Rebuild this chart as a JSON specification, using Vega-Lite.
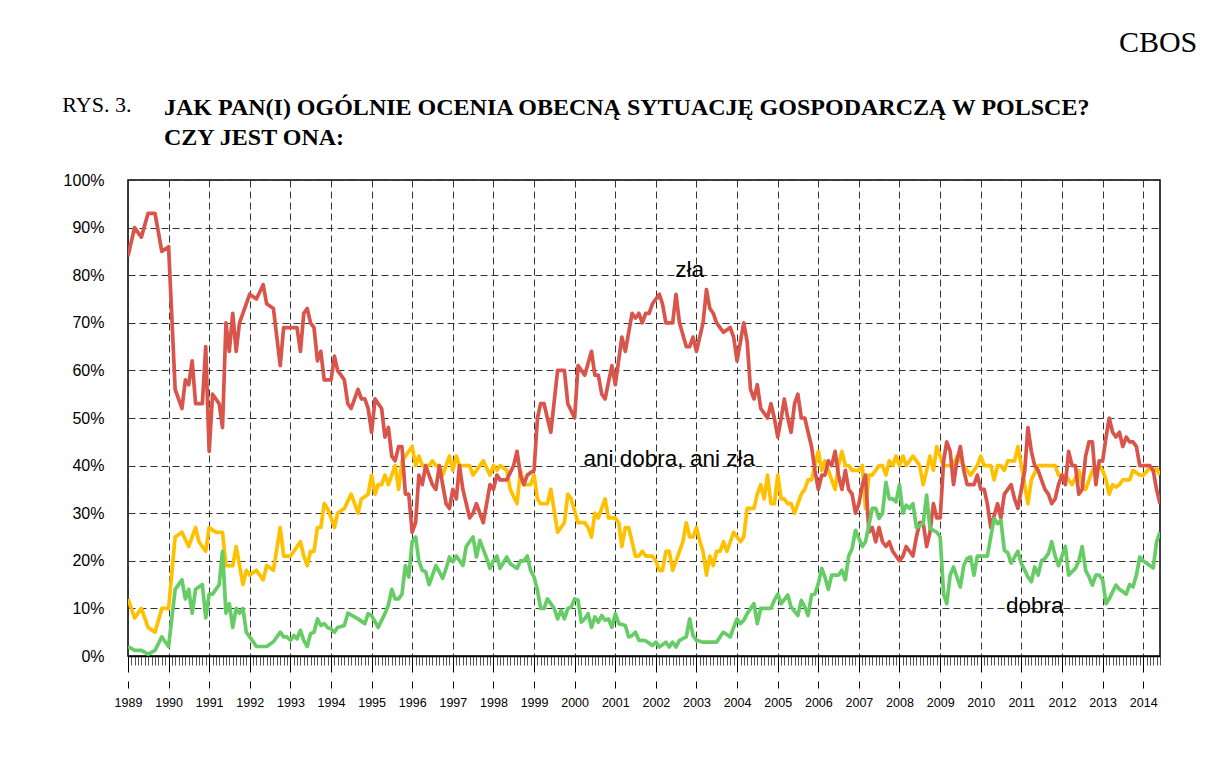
{
"$schema": "https://vega.github.io/schema/vega-lite/v6.json",
"background": "white",
"padding": {"left": 62, "top": 28, "right": 0, "bottom": 0},
"config": {"view": {"stroke": "black", "strokeWidth": 1.5}, "concat": {"spacing": 0}},
"title": {"text": "CBOS", "anchor": "end", "font": "Liberation Serif", "fontSize": 30, "fontWeight": "normal", "color": "black", "dx": 36, "offset": 36},
"vconcat": [{
"title": {"text": "RYS. 3.", "anchor": "start", "frame": "bounds", "font": "Liberation Serif", "fontSize": 22, "fontWeight": "normal", "color": "black", "dy": 32, "offset": 10},
"vconcat": [{
"width": 1032,
"height": 476,
"title": {"text": ["JAK PAN(I) OGÓLNIE OCENIA OBECNĄ SYTUACJĘ GOSPODARCZĄ W POLSCE?", "CZY JEST ONA:"], "anchor": "start", "frame": "group", "dx": 36, "font": "Liberation Serif", "fontSize": 24, "fontWeight": "bold", "lineHeight": 30, "color": "black", "offset": 22},
"encoding": {
"x": {"field": "d", "type": "temporal", "scale": {"type": "utc", "domain": [{"year": 1989, "month": 1, "date": 1, "utc": true}, {"year": 2014, "month": 6, "date": 1, "utc": true}]}, "axis": null},
"y": {"field": "v", "type": "quantitative", "scale": {"domain": [0, 100], "nice": false}, "axis": {"values": [0, 10, 20, 30, 40, 50, 60, 70, 80, 90, 100], "labelExpr": "datum.value + '%'", "title": null, "ticks": false, "tickSize": 0, "labelPadding": 24, "labelFont": "Liberation Sans", "labelFontSize": 16, "labelColor": "black", "domain": false, "grid": true, "gridColor": "#333333", "gridDash": [7, 4], "gridWidth": 1}}
},
"resolve": {"axis": {"x": "independent"}},
"layer": [
{
"data": {"format": {"parse": {"d": "utc:'%Y-%m'"}}, "values": [
{"d":"1989-01","v":12},{"d":"1989-03","v":8},{"d":"1989-05","v":10},{"d":"1989-07","v":6},{"d":"1989-09","v":5},{"d":"1989-11","v":10},
{"d":"1990-01","v":10},{"d":"1990-03","v":25},{"d":"1990-05","v":26},{"d":"1990-07","v":23},{"d":"1990-09","v":27},{"d":"1990-10","v":24},{"d":"1990-12","v":22},
{"d":"1991-01","v":27},{"d":"1991-03","v":26},{"d":"1991-05","v":26},{"d":"1991-06","v":19},{"d":"1991-08","v":19},{"d":"1991-09","v":23},{"d":"1991-11","v":15},{"d":"1991-12","v":18},
{"d":"1992-01","v":17},{"d":"1992-03","v":18},{"d":"1992-05","v":16},{"d":"1992-06","v":19},{"d":"1992-08","v":18},{"d":"1992-10","v":27},{"d":"1992-11","v":21},
{"d":"1993-01","v":21},{"d":"1993-02","v":22},{"d":"1993-04","v":24},{"d":"1993-05","v":21},{"d":"1993-06","v":19},{"d":"1993-07","v":22},{"d":"1993-08","v":22},{"d":"1993-09","v":27},{"d":"1993-10","v":27},{"d":"1993-11","v":32},{"d":"1993-12","v":31},
{"d":"1994-02","v":27},{"d":"1994-03","v":30},{"d":"1994-05","v":31},{"d":"1994-07","v":34},{"d":"1994-09","v":30},{"d":"1994-10","v":33},{"d":"1994-12","v":34},
{"d":"1995-01","v":38},{"d":"1995-02","v":34},{"d":"1995-03","v":36},{"d":"1995-04","v":36},{"d":"1995-05","v":38},{"d":"1995-06","v":36},{"d":"1995-08","v":40},{"d":"1995-09","v":35},{"d":"1995-10","v":41},{"d":"1995-11","v":42},{"d":"1995-12","v":43},
{"d":"1996-01","v":44},{"d":"1996-02","v":40},{"d":"1996-03","v":42},{"d":"1996-04","v":40},{"d":"1996-06","v":40},{"d":"1996-07","v":41},{"d":"1996-08","v":40},{"d":"1996-09","v":40},{"d":"1996-10","v":38},{"d":"1996-11","v":40},{"d":"1996-12","v":42},
{"d":"1997-01","v":39},{"d":"1997-02","v":42},{"d":"1997-03","v":40},{"d":"1997-05","v":40},{"d":"1997-06","v":40},{"d":"1997-07","v":38},{"d":"1997-09","v":40},{"d":"1997-10","v":41},{"d":"1997-12","v":38},
{"d":"1998-01","v":40},{"d":"1998-02","v":39},{"d":"1998-03","v":40},{"d":"1998-05","v":39},{"d":"1998-06","v":35},{"d":"1998-08","v":32},{"d":"1998-09","v":39},{"d":"1998-10","v":36},{"d":"1998-12","v":36},
{"d":"1999-01","v":38},{"d":"1999-02","v":33},{"d":"1999-03","v":32},{"d":"1999-05","v":32},{"d":"1999-06","v":35},{"d":"1999-08","v":26},{"d":"1999-10","v":28},{"d":"1999-11","v":34},{"d":"1999-12","v":33},
{"d":"2000-02","v":28},{"d":"2000-04","v":28},{"d":"2000-05","v":27},{"d":"2000-06","v":25},{"d":"2000-07","v":30},{"d":"2000-08","v":29},{"d":"2000-10","v":33},{"d":"2000-11","v":29},
{"d":"2001-01","v":29},{"d":"2001-02","v":28},{"d":"2001-03","v":23},{"d":"2001-04","v":27},{"d":"2001-05","v":27},{"d":"2001-07","v":21},{"d":"2001-08","v":21},{"d":"2001-09","v":22},{"d":"2001-10","v":21},{"d":"2001-12","v":21},
{"d":"2002-01","v":20},{"d":"2002-02","v":18},{"d":"2002-03","v":18},{"d":"2002-04","v":22},{"d":"2002-05","v":22},{"d":"2002-06","v":18},{"d":"2002-07","v":20},{"d":"2002-09","v":24},{"d":"2002-10","v":28},{"d":"2002-11","v":25},{"d":"2002-12","v":25},
{"d":"2003-01","v":27},{"d":"2003-02","v":24},{"d":"2003-03","v":22},{"d":"2003-04","v":17},{"d":"2003-05","v":21},{"d":"2003-06","v":19},{"d":"2003-07","v":22},{"d":"2003-08","v":22},{"d":"2003-09","v":24},{"d":"2003-10","v":22},{"d":"2003-11","v":24},{"d":"2003-12","v":26},
{"d":"2004-02","v":24},{"d":"2004-03","v":25},{"d":"2004-04","v":31},{"d":"2004-06","v":31},{"d":"2004-07","v":34},{"d":"2004-08","v":36},{"d":"2004-09","v":33},{"d":"2004-10","v":38},{"d":"2004-11","v":32},{"d":"2004-12","v":32},
{"d":"2005-01","v":38},{"d":"2005-02","v":33},{"d":"2005-03","v":33},{"d":"2005-04","v":32},{"d":"2005-05","v":32},{"d":"2005-06","v":30},{"d":"2005-07","v":32},{"d":"2005-08","v":34},{"d":"2005-09","v":35},{"d":"2005-10","v":37},{"d":"2005-11","v":37},{"d":"2005-12","v":40},
{"d":"2006-01","v":43},{"d":"2006-02","v":39},{"d":"2006-03","v":41},{"d":"2006-04","v":39},{"d":"2006-05","v":37},{"d":"2006-06","v":35},{"d":"2006-07","v":40},{"d":"2006-08","v":43},{"d":"2006-09","v":40},{"d":"2006-10","v":40},{"d":"2006-11","v":39},
{"d":"2007-01","v":39},{"d":"2007-02","v":40},{"d":"2007-03","v":31},{"d":"2007-04","v":38},{"d":"2007-05","v":38},{"d":"2007-06","v":39},{"d":"2007-07","v":40},{"d":"2007-08","v":40},{"d":"2007-09","v":38},{"d":"2007-10","v":41},{"d":"2007-11","v":40},{"d":"2007-12","v":42},
{"d":"2008-01","v":40},{"d":"2008-02","v":42},{"d":"2008-03","v":40},{"d":"2008-05","v":42},{"d":"2008-07","v":40},{"d":"2008-08","v":36},{"d":"2008-09","v":39},{"d":"2008-10","v":42},{"d":"2008-11","v":39},{"d":"2008-12","v":44},
{"d":"2009-01","v":42},{"d":"2009-02","v":40},{"d":"2009-05","v":40},{"d":"2009-06","v":42},{"d":"2009-08","v":40},{"d":"2009-09","v":39},{"d":"2009-10","v":38},{"d":"2009-12","v":40},
{"d":"2010-01","v":42},{"d":"2010-02","v":40},{"d":"2010-04","v":40},{"d":"2010-05","v":37},{"d":"2010-06","v":40},{"d":"2010-07","v":40},{"d":"2010-08","v":39},{"d":"2010-09","v":41},{"d":"2010-10","v":41},{"d":"2010-11","v":41},{"d":"2010-12","v":44},
{"d":"2011-01","v":40},{"d":"2011-03","v":32},{"d":"2011-04","v":37},{"d":"2011-06","v":40},{"d":"2011-08","v":40},{"d":"2011-11","v":40},{"d":"2011-12","v":38},
{"d":"2012-02","v":38},{"d":"2012-03","v":37},{"d":"2012-04","v":36},{"d":"2012-06","v":39},{"d":"2012-07","v":36},{"d":"2012-08","v":35},{"d":"2012-09","v":37},{"d":"2012-10","v":39},{"d":"2012-12","v":40},
{"d":"2013-01","v":39},{"d":"2013-02","v":37},{"d":"2013-03","v":34},{"d":"2013-04","v":36},{"d":"2013-05","v":35.5},{"d":"2013-06","v":36},{"d":"2013-07","v":37},{"d":"2013-08","v":37},{"d":"2013-09","v":37},{"d":"2013-10","v":39},{"d":"2013-12","v":38},
{"d":"2014-01","v":38},{"d":"2014-02","v":38.7},{"d":"2014-03","v":39.7},{"d":"2014-04","v":38.7},{"d":"2014-05","v":39.4},{"d":"2014-06","v":38}
]},
"mark": {"type": "line", "color": "#FFC000", "strokeWidth": 3.7, "strokeJoin": "round", "clip": true},
"encoding": {
"x": {"field": "d", "type": "temporal", "scale": {"type": "utc", "domain": [{"year": 1989, "month": 1, "date": 1, "utc": true}, {"year": 2014, "month": 6, "date": 1, "utc": true}]}, "axis": {"orient": "bottom", "title": null, "tickCount": {"interval": "month", "step": 1}, "labels": false, "grid": false, "domain": true, "domainColor": "black", "domainWidth": 1.5, "tickColor": "#555555", "tickSize": 9, "tickWidth": 1}}
}
},
{
"data": {"format": {"parse": {"d": "utc:'%Y-%m'"}}, "values": [
{"d":"1989-01","v":84},{"d":"1989-03","v":90},{"d":"1989-05","v":88},{"d":"1989-07","v":93},{"d":"1989-09","v":93},{"d":"1989-11","v":85},
{"d":"1990-01","v":86},{"d":"1990-03","v":56},{"d":"1990-05","v":52},{"d":"1990-06","v":58},{"d":"1990-07","v":57},{"d":"1990-08","v":62},{"d":"1990-09","v":53},{"d":"1990-11","v":53},{"d":"1990-12","v":65},
{"d":"1991-01","v":43},{"d":"1991-02","v":55},{"d":"1991-04","v":53},{"d":"1991-05","v":48},{"d":"1991-06","v":70},{"d":"1991-07","v":64},{"d":"1991-08","v":72},{"d":"1991-09","v":64},{"d":"1991-10","v":70},
{"d":"1992-01","v":76},{"d":"1992-03","v":75},{"d":"1992-05","v":78},{"d":"1992-06","v":74},{"d":"1992-08","v":73},{"d":"1992-10","v":61},{"d":"1992-11","v":69},
{"d":"1993-03","v":69},{"d":"1993-04","v":64},{"d":"1993-05","v":72},{"d":"1993-06","v":73},{"d":"1993-07","v":70},{"d":"1993-08","v":69},{"d":"1993-09","v":62},{"d":"1993-10","v":64},{"d":"1993-11","v":58},
{"d":"1994-01","v":58},{"d":"1994-02","v":63},{"d":"1994-03","v":60},{"d":"1994-05","v":58},{"d":"1994-06","v":53},{"d":"1994-07","v":52},{"d":"1994-09","v":56},{"d":"1994-10","v":54},{"d":"1994-11","v":54},{"d":"1994-12","v":52},
{"d":"1995-01","v":47},{"d":"1995-02","v":54},{"d":"1995-04","v":52},{"d":"1995-05","v":46},{"d":"1995-06","v":48},{"d":"1995-07","v":42},{"d":"1995-08","v":41},{"d":"1995-09","v":44},{"d":"1995-10","v":44},{"d":"1995-11","v":34},{"d":"1995-12","v":34},
{"d":"1996-01","v":26},{"d":"1996-02","v":28},{"d":"1996-03","v":38},{"d":"1996-04","v":36},{"d":"1996-05","v":40},{"d":"1996-07","v":36},{"d":"1996-08","v":35},{"d":"1996-09","v":40},{"d":"1996-11","v":32},{"d":"1996-12","v":31},
{"d":"1997-01","v":35},{"d":"1997-02","v":33},{"d":"1997-03","v":40},{"d":"1997-04","v":35},{"d":"1997-06","v":29},{"d":"1997-07","v":30},{"d":"1997-08","v":32},{"d":"1997-10","v":28},{"d":"1997-11","v":32},{"d":"1997-12","v":36},
{"d":"1998-01","v":35},{"d":"1998-02","v":38},{"d":"1998-03","v":37},{"d":"1998-05","v":37},{"d":"1998-07","v":40},{"d":"1998-08","v":43},{"d":"1998-09","v":38},{"d":"1998-10","v":36},{"d":"1998-11","v":38},
{"d":"1999-01","v":39},{"d":"1999-02","v":50},{"d":"1999-03","v":53},{"d":"1999-04","v":53},{"d":"1999-05","v":50},{"d":"1999-06","v":47},{"d":"1999-08","v":60},{"d":"1999-10","v":60},{"d":"1999-11","v":53},
{"d":"2000-01","v":50},{"d":"2000-02","v":61},{"d":"2000-04","v":59},{"d":"2000-06","v":64},{"d":"2000-07","v":59},{"d":"2000-08","v":59},{"d":"2000-09","v":55},{"d":"2000-10","v":54},{"d":"2000-12","v":61},
{"d":"2001-01","v":57},{"d":"2001-03","v":67},{"d":"2001-04","v":64},{"d":"2001-06","v":72},{"d":"2001-07","v":71},{"d":"2001-08","v":72},{"d":"2001-09","v":70},{"d":"2001-10","v":72},{"d":"2001-11","v":72},{"d":"2001-12","v":74},
{"d":"2002-01","v":75},{"d":"2002-02","v":76},{"d":"2002-03","v":74},{"d":"2002-04","v":70},{"d":"2002-06","v":70},{"d":"2002-07","v":76},{"d":"2002-08","v":70},{"d":"2002-10","v":65},{"d":"2002-11","v":65},{"d":"2002-12","v":67},
{"d":"2003-01","v":64},{"d":"2003-03","v":70},{"d":"2003-04","v":77},{"d":"2003-05","v":73},{"d":"2003-06","v":72},{"d":"2003-07","v":70},{"d":"2003-09","v":68},{"d":"2003-11","v":69},{"d":"2003-12","v":67},
{"d":"2004-01","v":62},{"d":"2004-03","v":70},{"d":"2004-04","v":66},{"d":"2004-05","v":56},{"d":"2004-06","v":54},{"d":"2004-07","v":57},{"d":"2004-08","v":52},{"d":"2004-09","v":51},{"d":"2004-10","v":50},{"d":"2004-11","v":53},{"d":"2004-12","v":50},
{"d":"2005-01","v":46},{"d":"2005-02","v":50},{"d":"2005-03","v":54},{"d":"2005-04","v":50},{"d":"2005-05","v":47},{"d":"2005-06","v":53},{"d":"2005-07","v":55},{"d":"2005-08","v":50},{"d":"2005-09","v":50},{"d":"2005-10","v":47},{"d":"2005-11","v":44},{"d":"2005-12","v":39},
{"d":"2006-01","v":35},{"d":"2006-02","v":38},{"d":"2006-03","v":38},{"d":"2006-04","v":41},{"d":"2006-05","v":40},{"d":"2006-06","v":43},{"d":"2006-07","v":38},{"d":"2006-08","v":35},{"d":"2006-09","v":39},{"d":"2006-10","v":35},{"d":"2006-11","v":34},{"d":"2006-12","v":30},
{"d":"2007-01","v":32},{"d":"2007-02","v":36},{"d":"2007-03","v":38},{"d":"2007-04","v":26},{"d":"2007-05","v":27},{"d":"2007-06","v":24},{"d":"2007-07","v":27},{"d":"2007-08","v":24},{"d":"2007-09","v":23},{"d":"2007-10","v":24},{"d":"2007-11","v":22},{"d":"2007-12","v":21},
{"d":"2008-01","v":20},{"d":"2008-02","v":21},{"d":"2008-03","v":23},{"d":"2008-04","v":22},{"d":"2008-05","v":21},{"d":"2008-06","v":25},{"d":"2008-07","v":28},{"d":"2008-08","v":28},{"d":"2008-09","v":23},{"d":"2008-10","v":26},{"d":"2008-11","v":32},{"d":"2008-12","v":29},
{"d":"2009-01","v":29},{"d":"2009-02","v":41},{"d":"2009-03","v":45},{"d":"2009-04","v":43},{"d":"2009-05","v":36},{"d":"2009-06","v":41},{"d":"2009-07","v":44},{"d":"2009-08","v":39},{"d":"2009-09","v":36},{"d":"2009-11","v":36},{"d":"2009-12","v":38},
{"d":"2010-01","v":35},{"d":"2010-02","v":35},{"d":"2010-03","v":32},{"d":"2010-04","v":27},{"d":"2010-06","v":32},{"d":"2010-07","v":29},{"d":"2010-08","v":34},{"d":"2010-09","v":35},{"d":"2010-10","v":36},{"d":"2010-11","v":33},{"d":"2010-12","v":31},
{"d":"2011-01","v":35},{"d":"2011-02","v":39},{"d":"2011-03","v":48},{"d":"2011-04","v":43},{"d":"2011-05","v":40},{"d":"2011-06","v":39},{"d":"2011-07","v":37},{"d":"2011-08","v":35},{"d":"2011-09","v":34},{"d":"2011-10","v":32},{"d":"2011-11","v":33},{"d":"2011-12","v":36},
{"d":"2012-01","v":38},{"d":"2012-02","v":36},{"d":"2012-03","v":43},{"d":"2012-04","v":40},{"d":"2012-05","v":40},{"d":"2012-06","v":34},{"d":"2012-07","v":35},{"d":"2012-08","v":42},{"d":"2012-09","v":45},{"d":"2012-10","v":45},{"d":"2012-11","v":36},{"d":"2012-12","v":41},
{"d":"2013-01","v":41},{"d":"2013-02","v":46},{"d":"2013-03","v":50},{"d":"2013-04","v":47},{"d":"2013-05","v":46},{"d":"2013-06","v":47},{"d":"2013-07","v":44},{"d":"2013-08","v":46},{"d":"2013-09","v":45},{"d":"2013-10","v":45},{"d":"2013-11","v":44},{"d":"2013-12","v":40},
{"d":"2014-01","v":40},{"d":"2014-02","v":40},{"d":"2014-03","v":40},{"d":"2014-04","v":39},{"d":"2014-05","v":35},{"d":"2014-06","v":32}
]},
"mark": {"type": "line", "color": "#D9544A", "strokeWidth": 3.7, "strokeJoin": "round", "clip": true},
"encoding": {
"x": {"field": "d", "type": "temporal", "scale": {"type": "utc", "domain": [{"year": 1989, "month": 1, "date": 1, "utc": true}, {"year": 2014, "month": 6, "date": 1, "utc": true}]}, "axis": {"orient": "bottom", "title": null, "tickCount": {"interval": "year", "step": 1}, "format": "%Y", "labelFont": "Liberation Sans", "labelFontSize": 12.5, "labelColor": "black", "labelPadding": 8, "labelFlush": false, "labelOverlap": false, "tickColor": "black", "tickSize": 32, "tickDash": [16, 9, 7], "tickWidth": 1, "domain": false, "grid": true, "gridColor": "#333333", "gridDash": [7, 4], "gridWidth": 1}}
}
},
{
"data": {"format": {"parse": {"d": "utc:'%Y-%m'"}}, "values": [
{"d":"1989-01","v":2},{"d":"1989-03","v":1.2},{"d":"1989-05","v":1.2},{"d":"1989-07","v":0.4},{"d":"1989-09","v":1.2},{"d":"1989-11","v":4},
{"d":"1990-01","v":2},{"d":"1990-03","v":14},{"d":"1990-05","v":16},{"d":"1990-06","v":12},{"d":"1990-07","v":14},{"d":"1990-08","v":9},{"d":"1990-09","v":14},{"d":"1990-11","v":15},{"d":"1990-12","v":8},
{"d":"1991-01","v":13},{"d":"1991-02","v":13},{"d":"1991-04","v":15},{"d":"1991-05","v":22},{"d":"1991-06","v":9},{"d":"1991-07","v":11},{"d":"1991-08","v":6},{"d":"1991-09","v":10},{"d":"1991-10","v":9},{"d":"1991-11","v":10},{"d":"1991-12","v":5},
{"d":"1992-02","v":3},{"d":"1992-03","v":2},{"d":"1992-06","v":2},{"d":"1992-08","v":3},{"d":"1992-10","v":5},{"d":"1992-11","v":4},{"d":"1992-12","v":4},
{"d":"1993-01","v":3.3},{"d":"1993-02","v":4.3},{"d":"1993-03","v":3.6},{"d":"1993-04","v":5.4},{"d":"1993-05","v":3.3},{"d":"1993-06","v":2},{"d":"1993-07","v":4.7},{"d":"1993-08","v":5},{"d":"1993-09","v":7.8},{"d":"1993-10","v":6.4},{"d":"1993-11","v":6.8},{"d":"1993-12","v":6},
{"d":"1994-01","v":5.7},{"d":"1994-02","v":5},{"d":"1994-03","v":6},{"d":"1994-05","v":6.4},{"d":"1994-06","v":9},{"d":"1994-08","v":8.2},{"d":"1994-09","v":7.8},{"d":"1994-11","v":6.8},{"d":"1994-12","v":8.9},
{"d":"1995-01","v":8.5},{"d":"1995-03","v":6},{"d":"1995-05","v":8.9},{"d":"1995-06","v":10.7},{"d":"1995-07","v":14},{"d":"1995-08","v":12},{"d":"1995-09","v":12},{"d":"1995-10","v":13},{"d":"1995-11","v":19},{"d":"1995-12","v":16.6},
{"d":"1996-01","v":24},{"d":"1996-02","v":25},{"d":"1996-03","v":20},{"d":"1996-04","v":18},{"d":"1996-05","v":17.7},{"d":"1996-06","v":15},{"d":"1996-08","v":19},{"d":"1996-09","v":17.7},{"d":"1996-10","v":16.3},{"d":"1996-11","v":18.4},{"d":"1996-12","v":20.8},
{"d":"1997-01","v":19.8},{"d":"1997-02","v":21},{"d":"1997-04","v":19},{"d":"1997-05","v":23},{"d":"1997-07","v":25},{"d":"1997-08","v":20.8},{"d":"1997-09","v":24.3},{"d":"1997-11","v":20.5},{"d":"1997-12","v":18.4},
{"d":"1998-01","v":20},{"d":"1998-02","v":21},{"d":"1998-03","v":18.4},{"d":"1998-05","v":20.8},{"d":"1998-06","v":19.4},{"d":"1998-08","v":18.4},{"d":"1998-09","v":20},{"d":"1998-10","v":20},{"d":"1998-11","v":21},{"d":"1998-12","v":18},
{"d":"1999-01","v":16.6},{"d":"1999-02","v":13.8},{"d":"1999-03","v":10},{"d":"1999-04","v":10},{"d":"1999-05","v":12},{"d":"1999-07","v":10},{"d":"1999-08","v":7.8},{"d":"1999-09","v":9.6},{"d":"1999-10","v":7.8},{"d":"1999-11","v":10},{"d":"1999-12","v":10.3},
{"d":"2000-01","v":12},{"d":"2000-02","v":11.7},{"d":"2000-03","v":7.1},{"d":"2000-04","v":7.8},{"d":"2000-05","v":8.9},{"d":"2000-06","v":6},{"d":"2000-07","v":8.2},{"d":"2000-08","v":7.1},{"d":"2000-09","v":8.5},{"d":"2000-10","v":7.5},{"d":"2000-11","v":7.8},{"d":"2000-12","v":6},
{"d":"2001-01","v":8.9},{"d":"2001-02","v":6.8},{"d":"2001-04","v":6.4},{"d":"2001-05","v":4},{"d":"2001-06","v":4.3},{"d":"2001-07","v":5},{"d":"2001-08","v":3.3},{"d":"2001-09","v":3.3},{"d":"2001-10","v":3.2},{"d":"2001-12","v":2.2},
{"d":"2002-01","v":2.9},{"d":"2002-02","v":1.9},{"d":"2002-04","v":2.9},{"d":"2002-05","v":1.9},{"d":"2002-06","v":2.9},{"d":"2002-07","v":1.9},{"d":"2002-08","v":3.3},{"d":"2002-10","v":4},{"d":"2002-11","v":7.8},{"d":"2002-12","v":4.3},
{"d":"2003-01","v":3.3},{"d":"2003-03","v":2.9},{"d":"2003-05","v":2.9},{"d":"2003-07","v":2.9},{"d":"2003-08","v":4},{"d":"2003-09","v":5},{"d":"2003-11","v":4},{"d":"2003-12","v":6},
{"d":"2004-01","v":7.8},{"d":"2004-02","v":6.8},{"d":"2004-03","v":7.5},{"d":"2004-04","v":8.9},{"d":"2004-06","v":11},{"d":"2004-07","v":6.8},{"d":"2004-08","v":10},{"d":"2004-11","v":10},{"d":"2004-12","v":11.7},
{"d":"2005-01","v":13},{"d":"2005-02","v":11},{"d":"2005-04","v":12.8},{"d":"2005-05","v":10.3},{"d":"2005-07","v":8.5},{"d":"2005-08","v":11.7},{"d":"2005-09","v":10.3},{"d":"2005-10","v":8.5},{"d":"2005-11","v":12.8},{"d":"2005-12","v":13},
{"d":"2006-01","v":15.2},{"d":"2006-02","v":18.4},{"d":"2006-03","v":16.6},{"d":"2006-04","v":14},{"d":"2006-05","v":17},{"d":"2006-07","v":17},{"d":"2006-08","v":18},{"d":"2006-09","v":16},{"d":"2006-10","v":21},{"d":"2006-11","v":22.6},{"d":"2006-12","v":26.4},
{"d":"2007-02","v":23},{"d":"2007-03","v":24},{"d":"2007-04","v":27.5},{"d":"2007-05","v":31},{"d":"2007-06","v":31},{"d":"2007-07","v":28.9},{"d":"2007-08","v":30},{"d":"2007-09","v":36.5},{"d":"2007-10","v":33},{"d":"2007-11","v":33},{"d":"2007-12","v":32.4},
{"d":"2008-01","v":36},{"d":"2008-02","v":30},{"d":"2008-03","v":31.7},{"d":"2008-04","v":31},{"d":"2008-05","v":32},{"d":"2008-06","v":27},{"d":"2008-08","v":27.8},{"d":"2008-09","v":33.8},{"d":"2008-10","v":26.8},{"d":"2008-12","v":26},
{"d":"2009-01","v":25},{"d":"2009-02","v":13},{"d":"2009-03","v":11},{"d":"2009-04","v":17},{"d":"2009-05","v":18.7},{"d":"2009-07","v":14.5},{"d":"2009-08","v":19},{"d":"2009-09","v":20.5},{"d":"2009-10","v":20.8},{"d":"2009-11","v":17},{"d":"2009-12","v":21},
{"d":"2010-01","v":21},{"d":"2010-03","v":21},{"d":"2010-05","v":28.9},{"d":"2010-06","v":27.8},{"d":"2010-07","v":28.5},{"d":"2010-08","v":22.2},{"d":"2010-09","v":21.7},{"d":"2010-10","v":19.5},{"d":"2010-12","v":22},
{"d":"2011-01","v":19.4},{"d":"2011-02","v":18},{"d":"2011-03","v":16.6},{"d":"2011-04","v":15.6},{"d":"2011-05","v":18.7},{"d":"2011-06","v":17},{"d":"2011-07","v":20},{"d":"2011-08","v":20.5},{"d":"2011-09","v":21.5},{"d":"2011-10","v":24},{"d":"2011-11","v":21},{"d":"2011-12","v":19},
{"d":"2012-02","v":23},{"d":"2012-03","v":17},{"d":"2012-05","v":18.4},{"d":"2012-06","v":20},{"d":"2012-07","v":23},{"d":"2012-08","v":18},{"d":"2012-09","v":16.6},{"d":"2012-10","v":14.9},{"d":"2012-11","v":17},{"d":"2012-12","v":17},
{"d":"2013-01","v":16},{"d":"2013-02","v":11},{"d":"2013-03","v":12},{"d":"2013-04","v":13.5},{"d":"2013-05","v":14.9},{"d":"2013-06","v":14},{"d":"2013-08","v":13},{"d":"2013-09","v":15},{"d":"2013-10","v":14.5},{"d":"2013-11","v":17},{"d":"2013-12","v":20.8},
{"d":"2014-01","v":20},{"d":"2014-02","v":19.5},{"d":"2014-03","v":19},{"d":"2014-04","v":18.5},{"d":"2014-05","v":24},{"d":"2014-06","v":26}
]},
"mark": {"type": "line", "color": "#66CC66", "strokeWidth": 3.7, "strokeJoin": "round", "clip": true}
},
{
"data": {"format": {"parse": {"d": "utc:'%Y-%m'"}}, "values": [
{"d":"2002-11","v":81,"t":"zła"},
{"d":"2002-05","v":41.4,"t":"ani dobra, ani zła"},
{"d":"2011-05","v":10.5,"t":"dobra"}
]},
"mark": {"type": "text", "font": "Liberation Sans", "fontSize": 22.5, "color": "black", "align": "center", "baseline": "middle"},
"encoding": {"text": {"field": "t"}}
}
]
}]
}]
}
